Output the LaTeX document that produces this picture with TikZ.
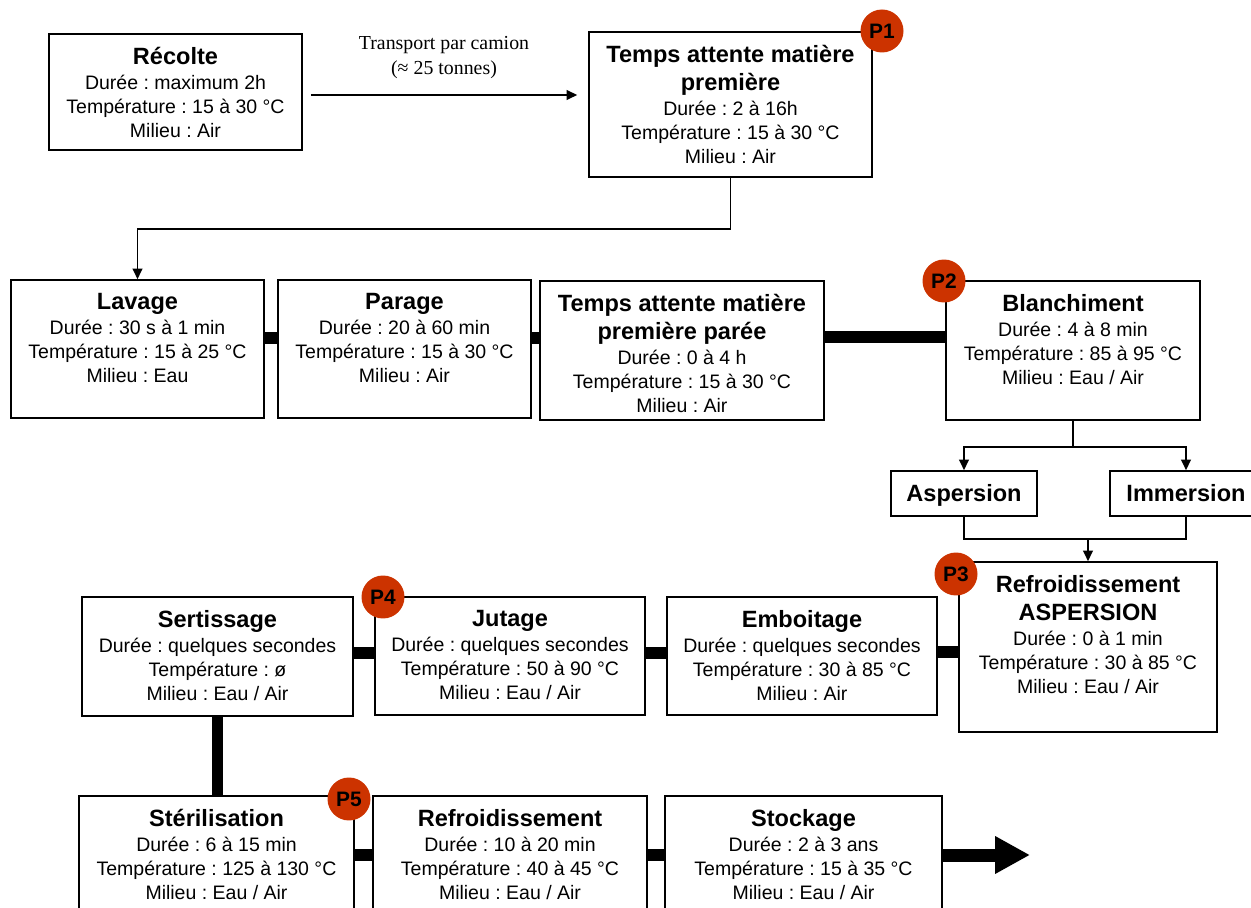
\documentclass[tikz,border=0pt]{standalone}
\usepackage{fontspec}
\setmainfont{Liberation Sans}
\newfontfamily\timesfont{Liberation Serif}
\usetikzlibrary{arrows.meta,calc,fit}
\frenchspacing

\definecolor{rougeP}{RGB}{204,51,0}
\newcommand{\titre}[1]{{\fontsize{13.4}{15.9}\selectfont\bfseries #1}}

\tikzset{
  etape/.style={draw, line width=0.9pt, inner sep=0pt},
  contenu/.style={anchor=north, align=center, inner sep=0pt, yshift=-8pt,
    font=\fontsize{11.1}{13.6}\selectfont},
  choix/.style={anchor=base, inner sep=0pt},
  liaison/.style={line width=6.6pt},
  fleche/.style={-{Triangle[length=6pt,width=5.5pt]}, line width=1pt},
  grossefleche/.style={-{Triangle[length=19.8pt,width=20pt]}, line width=7.4pt},
  pastille/.style={circle, fill=rougeP, inner sep=0pt, minimum size=0.86cm,
    font=\fontsize{11.9}{12}\selectfont\bfseries},
}

\begin{document}
\begin{tikzpicture}[x=0.02cm, y=-0.02cm]

    \useasboundingbox (0,0) rectangle (1251,908);

    % Reception
    \node[etape, fit={(49,34) (302,150)}] (recolte) {};
    \node[contenu] (recolte-txt) at (recolte.north) {\titre{Récolte}\\[0.6pt]
    Durée : maximum 2h\\ Température : 15 à 30 °C\\ Milieu : Air};
    \node[etape, fit={(589,32) (872,177)}] (attente) {};
    \node[contenu] (attente-txt) at (attente.north) {\titre{Temps attente matière}\\[2.3pt]
    \titre{première}\\[0.6pt] Durée : 2 à 16h\\ Température : 15 à 30 °C\\ Milieu : Air};

    % Preparation
    \node[etape, fit={(11,280) (264,418)}] (lavage) {};
    \node[contenu] (lavage-txt) at (lavage.north) {\titre{Lavage}\\[0.6pt]
    Durée : 30 s à 1 min\\ Température : 15 à 25 °C\\ Milieu : Eau};
    \node[etape, fit={(278,280) (531,418)}] (parage) {};
    \node[contenu] (parage-txt) at (parage.north) {\titre{Parage}\\[0.6pt]
    Durée : 20 à 60 min\\ Température : 15 à 30 °C\\ Milieu : Air};
    \node[etape, fit={(540,281) (824,420)}] (paree) {};
    \node[contenu] (paree-txt) at (paree.north) {\titre{Temps attente matière}\\[2.3pt]
    \titre{première parée}\\[0.6pt] Durée : 0 à 4 h\\ Température : 15 à 30 °C\\ Milieu : Air};
    \node[etape, fit={(946,281) (1200,420)}] (blanch) {};
    \node[contenu] (blanch-txt) at (blanch.north) {\titre{Blanchiment}\\[0.6pt]
    Durée : 4 à 8 min\\ Température : 85 à 95 °C\\ Milieu : Eau / Air};
    \node[etape, fit={(891,471) (1037,516)}] (asper) {};
    \node[choix] (asper-txt) at ($(asper.center)+(0,8.5)$) {\titre{Aspersion}};
    \node[etape, fit={(1110,471) (1262,516)}] (immer) {};
    \node[choix] (immer-txt) at ($(immer.center)+(0,8.5)$) {\titre{Immersion}};

    % Conditionnement
    \node[etape, fit={(959,562) (1217,732)}] (refasp) {};
    \node[contenu] (refasp-txt) at (refasp.north) {\titre{Refroidissement}\\[2.3pt]
    \titre{ASPERSION}\\[0.6pt] Durée : 0 à 1 min\\ Température : 30 à 85 °C\\ Milieu : Eau / Air};
    \node[etape, fit={(667,597) (937,715)}] (emboit) {};
    \node[contenu] (emboit-txt) at (emboit.north) {\titre{Emboitage}\\[0.6pt]
    Durée : quelques secondes\\ Température : 30 à 85 °C\\ Milieu : Air};
    \node[etape, fit={(375,597) (645,715)}] (jutage) {};
    \node[contenu] (jutage-txt) at (jutage.north) {\titre{Jutage}\\[0.6pt]
    Durée : quelques secondes\\ Température : 50 à 90 °C\\ Milieu : Eau / Air};
    \node[etape, fit={(82,597) (353,716)}] (sertis) {};
    \node[contenu] (sertis-txt) at (sertis.north) {\titre{Sertissage}\\[0.6pt]
    Durée : quelques secondes\\ Température : ø\\ Milieu : Eau / Air};

    % Traitement final
    \node[etape, fit={(79,796) (354,930)}] (steril) {};
    \node[contenu] (steril-txt) at (steril.north) {\titre{Stérilisation}\\[0.6pt]
    Durée : 6 à 15 min\\ Température : 125 à 130 °C\\ Milieu : Eau / Air};
    \node[etape, fit={(373,796) (647,930)}] (refroid) {};
    \node[contenu] (refroid-txt) at (refroid.north) {\titre{Refroidissement}\\[0.6pt]
    Durée : 10 à 20 min\\ Température : 40 à 45 °C\\ Milieu : Eau / Air};
    \node[etape, fit={(665,796) (942,930)}] (stock) {};
    \node[contenu] (stock-txt) at (stock.north) {\titre{Stockage}\\[0.6pt]
    Durée : 2 à 3 ans\\ Température : 15 à 35 °C\\ Milieu : Eau / Air};
    \coordinate (fin) at (1030,855);

    % Lines
    \draw[fleche] ($(recolte.east)+(8,3)$) -- ($(recolte.east -| attente.west)+(-11,3)$)
    node[midway, above=9pt, inner sep=0pt, align=center,
    font=\timesfont\fontsize{11.3}{14.2}\selectfont] (transport) {Transport par camion\\ (≈ 25 tonnes)};
    \draw[fleche] (attente.south) -- ++(0,51) -| (lavage.north);
    \draw[liaison] (lavage.east |- 0,338) -- (parage.west |- 0,338);
    \draw[liaison] (parage.east |- 0,338) -- (paree.west |- 0,338);
    \draw[liaison] (paree.east |- 0,337) -- (blanch.west |- 0,337);
    \draw[line width=1pt] (blanch.south) -- ++(0,26) coordinate (fork);
    \draw[fleche] (fork) -| (asper.north);
    \draw[fleche] (fork) -| (immer.north);
    \draw[line width=1pt] (asper.south) -- ++(0,22) coordinate (merge) -| (immer.south);
    \draw[fleche] (merge -| refasp.north) -- (refasp.north);
    \draw[liaison] (emboit.east |- 0,652) -- (refasp.west |- 0,652);
    \draw[liaison] (jutage.east |- 0,653) -- (emboit.west |- 0,653);
    \draw[liaison] (sertis.east |- 0,653) -- (jutage.west |- 0,653);
    \draw[liaison] (sertis.south) -- (sertis.south |- steril.north);
    \draw[liaison] (steril.east |- 0,855) -- (refroid.west |- 0,855);
    \draw[liaison] (refroid.east |- 0,855) -- (stock.west |- 0,855);
    \draw[grossefleche] (stock.east |- fin) -- (fin);

    % Points
    \node[pastille] (p1) at (882,31) {P1};
    \node[pastille] (p2) at (944,281) {P2};
    \node[pastille] (p3) at (956,574) {P3};
    \node[pastille] (p4) at (383,597) {P4};
    \node[pastille] (p5) at (349,799) {P5};

\end{tikzpicture}
\end{document}
